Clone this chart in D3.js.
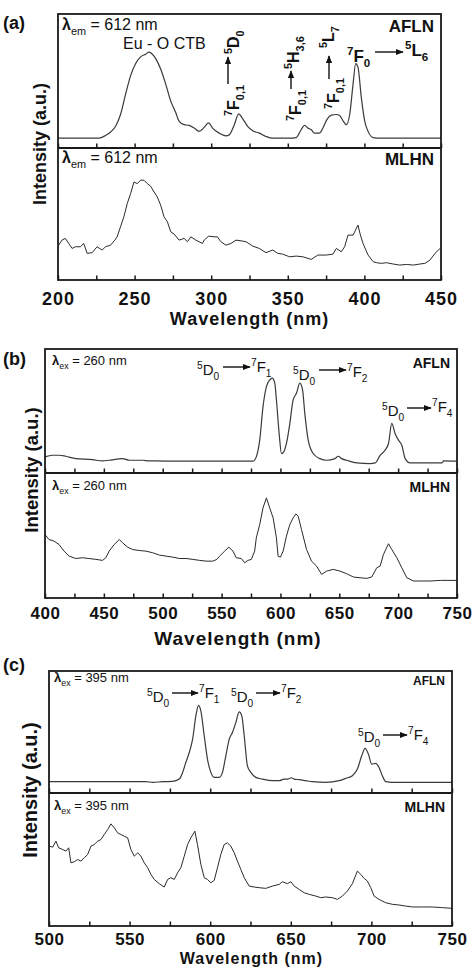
<!DOCTYPE html>
<html>
<head>
<meta charset="utf-8">
<script src="https://cdn.jsdelivr.net/npm/d3@7"></script>
<style>
  body { margin: 0; background: #fff; }
  text { white-space: pre; }
</style>
</head>
<body>
<script>
const width = 472, height = 967;
const fontFam = 'Arial, "Liberation Sans", sans-serif';

// (a) excitation spectra, lambda_em = 612 nm  [wavelength nm, intensity a.u.]
const excAFLN = [[200,0.073],[226.6,0.073],[231,0.093],[234.3,0.119],[237.6,0.162],[240.8,0.25],[244.1,0.4],[247.4,0.54],[250.7,0.63],[253.9,0.68],[257.2,0.70],[259.4,0.715],[261.6,0.70],[263.8,0.667],[267,0.59],[270.3,0.477],[273.6,0.35],[276.9,0.263],[279,0.2],[282.3,0.174],[285.6,0.169],[288.9,0.149],[292.1,0.124],[295.4,0.154],[298.3,0.187],[300.9,0.149],[305.2,0.111],[309.6,0.091],[311.8,0.098],[315.1,0.174],[317.9,0.255],[320.5,0.22],[323.8,0.162],[327.1,0.129],[331.4,0.111],[335.8,0.086],[340.2,0.073],[351.1,0.073],[355.5,0.078],[358.7,0.136],[360.9,0.169],[363.1,0.149],[365.3,0.136],[367.5,0.111],[370.7,0.111],[372.9,0.149],[375.5,0.212],[378.4,0.245],[381.7,0.25],[383.8,0.242],[386,0.205],[388.2,0.174],[390.4,0.25],[392.6,0.477],[394.3,0.63],[395.8,0.604],[398,0.376],[400.2,0.2],[402.4,0.124],[405.7,0.078],[410,0.073],[450,0.073]];
const excMLHN = [[200.4,0.264],[202.6,0.302],[204.8,0.315],[207,0.277],[209.2,0.239],[211.4,0.252],[214.6,0.252],[216.8,0.277],[219,0.202],[222.3,0.207],[225.5,0.252],[228.8,0.227],[231,0.252],[234.3,0.264],[237.1,0.302],[238.6,0.327],[240.8,0.403],[243,0.479],[245.2,0.579],[247.4,0.655],[249.6,0.743],[251.7,0.73],[253.9,0.756],[256.1,0.756],[258.3,0.73],[260.5,0.71],[262.7,0.667],[264.8,0.63],[267,0.567],[269.2,0.479],[271.4,0.441],[273.6,0.365],[275.8,0.348],[279,0.302],[282.3,0.315],[284.5,0.29],[286.7,0.327],[290,0.302],[294.3,0.277],[295.4,0.302],[298.3,0.332],[301.9,0.327],[304.1,0.327],[306.3,0.29],[309.6,0.264],[312.9,0.277],[316.2,0.302],[319.4,0.297],[322.7,0.29],[327.1,0.257],[331.4,0.239],[335.8,0.207],[340.2,0.227],[343.4,0.202],[346.7,0.196],[351.1,0.176],[355.5,0.181],[359.8,0.176],[365.3,0.156],[369.6,0.189],[375.1,0.189],[379.5,0.196],[381.7,0.239],[384.9,0.214],[387.1,0.252],[389.3,0.34],[392.6,0.34],[395.8,0.416],[397.4,0.34],[399.1,0.277],[402.4,0.189],[405.7,0.139],[407.9,0.131],[411.1,0.126],[414.4,0.131],[418.8,0.121],[423.1,0.113],[427.5,0.118],[431.9,0.113],[436.2,0.121],[439.5,0.126],[442.8,0.151],[446.1,0.202],[449.4,0.239]];

// (b) emission spectra, lambda_ex = 260 nm
const em260AFLN = [[400,0.13],[406.2,0.143],[411.9,0.143],[417.6,0.135],[426.1,0.116],[440.3,0.108],[448.9,0.097],[454.5,0.103],[465.9,0.116],[471.6,0.103],[482.9,0.103],[488.6,0.097],[494.3,0.097],[511.4,0.095],[539.8,0.095],[568.2,0.095],[576.7,0.095],[579.5,0.13],[582.4,0.265],[585.2,0.535],[588.1,0.697],[590.9,0.751],[593.2,0.765],[595.2,0.724],[596.6,0.589],[598.9,0.319],[600.9,0.157],[602.8,0.17],[605.1,0.238],[608,0.4],[610.8,0.589],[613.6,0.643],[616.5,0.724],[618.8,0.67],[620.7,0.481],[623.6,0.265],[627.8,0.157],[633.5,0.116],[639.2,0.103],[646.3,0.116],[649.1,0.135],[652,0.116],[656.3,0.103],[664.8,0.081],[676.1,0.076],[680.4,0.081],[684.7,0.143],[688.9,0.184],[691.8,0.238],[694.6,0.4],[697.4,0.319],[700.3,0.265],[703.1,0.224],[706,0.116],[710.2,0.081],[724.4,0.081],[737.2,0.081],[738.6,0.097],[750,0.095]];
const em260MLHN = [[400,0.508],[403.4,0.468],[407.7,0.455],[411.9,0.428],[416.2,0.375],[420.5,0.335],[426.1,0.316],[431.8,0.322],[437.5,0.316],[443.2,0.309],[448.9,0.301],[451.7,0.322],[454.5,0.375],[458.8,0.428],[463.1,0.468],[465.9,0.441],[470.2,0.407],[474.4,0.388],[480.1,0.38],[485.8,0.375],[491.5,0.362],[497.2,0.343],[502.9,0.335],[508.5,0.327],[514.2,0.316],[519.9,0.316],[525.6,0.309],[531.2,0.301],[536.9,0.295],[542.6,0.295],[546,0.309],[548.3,0.335],[552.6,0.375],[556.2,0.407],[559.7,0.375],[562.5,0.322],[566.8,0.316],[569.6,0.282],[572.4,0.301],[575.3,0.309],[578.1,0.375],[579.5,0.481],[582.4,0.588],[585.2,0.721],[588.1,0.801],[590.9,0.721],[593.8,0.641],[596.6,0.481],[598,0.335],[600,0.327],[602.3,0.375],[605.1,0.495],[608,0.588],[610.8,0.641],[613.1,0.673],[615.1,0.654],[617.9,0.548],[622.2,0.388],[626.4,0.295],[630.7,0.255],[635,0.189],[639.2,0.215],[644.9,0.229],[650.6,0.215],[656.3,0.194],[662,0.168],[667.6,0.162],[673.3,0.157],[677.6,0.168],[681.8,0.242],[684.7,0.255],[687.5,0.348],[691.8,0.434],[694.6,0.388],[698.9,0.322],[703.1,0.242],[707.4,0.162],[713.1,0.136],[718.8,0.136],[727.3,0.136],[735.8,0.141],[750,0.141]];

// (c) emission spectra, lambda_ex = 395 nm
const em395AFLN = [[500,0.093],[560.1,0.093],[564.3,0.087],[570.5,0.093],[576.7,0.095],[580.8,0.114],[582.9,0.169],[584.9,0.251],[587,0.332],[589.1,0.441],[591.1,0.632],[592.8,0.719],[594.2,0.673],[596.3,0.469],[598.3,0.278],[600.4,0.169],[602.5,0.128],[605.6,0.128],[607.6,0.169],[609.7,0.305],[611.8,0.441],[613.8,0.496],[615.9,0.577],[618,0.665],[619.6,0.632],[621.1,0.469],[623.1,0.223],[625.2,0.169],[628.3,0.128],[632.4,0.114],[638.6,0.101],[642.8,0.101],[645.9,0.114],[647.9,0.114],[650.4,0.125],[652.1,0.114],[655.2,0.109],[659.3,0.101],[663.4,0.093],[671.7,0.087],[680,0.101],[684.1,0.12],[688.2,0.142],[691.3,0.196],[694,0.305],[696.1,0.365],[698.1,0.319],[700.2,0.237],[702.7,0.243],[704.7,0.21],[706.8,0.142],[708.9,0.093],[713,0.087],[750,0.087]];
const em395MLHN = [[500.2,0.6],[502.3,0.593],[504.3,0.638],[506,0.588],[508.5,0.575],[510.5,0.563],[512.2,0.588],[513.6,0.475],[515.7,0.483],[517.8,0.5],[519.8,0.488],[521.9,0.513],[524,0.538],[526,0.6],[528.1,0.613],[530.2,0.638],[532.2,0.65],[534.3,0.688],[536.4,0.725],[538.4,0.768],[540.5,0.738],[542.6,0.7],[544.6,0.688],[546.7,0.675],[548.8,0.663],[550.8,0.575],[552.9,0.525],[555,0.55],[557,0.525],[559.1,0.475],[561.2,0.438],[563.2,0.388],[565.3,0.35],[568.4,0.318],[571.5,0.293],[573.6,0.35],[575.6,0.363],[577.7,0.35],[579.8,0.4],[581.8,0.438],[583.9,0.525],[586,0.613],[588,0.663],[590.5,0.713],[592.1,0.613],[594.2,0.463],[596.3,0.363],[598.3,0.35],[600.4,0.325],[602.5,0.343],[604.5,0.438],[606.6,0.538],[608.7,0.613],[610.7,0.625],[612.8,0.6],[614.9,0.55],[616.9,0.488],[619,0.425],[621.1,0.363],[624.2,0.3],[627.3,0.293],[630.4,0.288],[634.5,0.283],[638.6,0.3],[642.8,0.313],[644.8,0.333],[647.9,0.318],[650,0.333],[652.1,0.3],[655.2,0.275],[658.3,0.25],[661.4,0.238],[665.5,0.225],[668.6,0.213],[671.7,0.218],[675.8,0.213],[678.9,0.2],[682,0.225],[685.1,0.263],[688.2,0.318],[691.3,0.413],[693.4,0.388],[695.5,0.358],[697.5,0.338],[699.6,0.288],[701.7,0.225],[704.7,0.2],[708.9,0.175],[713,0.163],[717.1,0.158],[721.3,0.15],[725.4,0.143],[731.6,0.143],[737.8,0.143],[744,0.138],[750,0.133]];

// tick labels
const ticksA = [200, 250, 300, 350, 400, 450];
const ticksB = [400, 450, 500, 550, 600, 650, 700, 750];
const ticksC = [500, 550, 600, 650, 700, 750];

const svg = d3.select('body').append('svg')
  .attr('width', width)
  .attr('height', height)
  .style('background-color', '#fff');

// arrow head
svg.append('defs').append('marker')
  .attr('id', 'head')
  .attr('viewBox', '0 -5 10 10')
  .attr('refX', 9).attr('refY', 0)
  .attr('markerWidth', 8).attr('markerHeight', 8)
  .attr('markerUnits', 'userSpaceOnUse')
  .attr('orient', 'auto')
  .append('path')
  .attr('d', 'M0,-4L10,0L0,4Z')
  .attr('fill', '#111');

// text with super/subscripts; parts: 'str' or [str, 'sup'|'sub'|'b']
function rich(parent, x, y, parts, o) {
  const t = parent.append('text')
    .attr('transform', `translate(${x},${y})` + (o.rotate ? ' rotate(-90)' : ''))
    .attr('font-family', fontFam)
    .attr('font-size', o.size)
    .attr('font-weight', o.weight || 'normal')
    .attr('text-anchor', o.anchor || 'start')
    .attr('fill', '#111');
  let cur = 0;
  parts.forEach(function (p) {
    const s = typeof p === 'string' ? p : p[0];
    const k = typeof p === 'string' ? '' : p[1];
    const off = k === 'sup' ? -0.42 * o.size : k === 'sub' ? 0.3 * o.size : 0;
    const ts = t.append('tspan').attr('dy', off - cur).text(s);
    if (k === 'sup' || k === 'sub') ts.attr('font-size', o.size * 0.68);
    if (k === 'b') ts.attr('font-weight', 'bold');
    cur = off;
  });
  return t;
}

function arrow(parent, x1, y1, x2, y2) {
  parent.append('line')
    .attr('x1', x1).attr('y1', y1).attr('x2', x2).attr('y2', y2)
    .attr('stroke', '#111').attr('stroke-width', 1.4)
    .attr('marker-end', 'url(#head)');
}

// a "5D0 -> 7F1" style transition label
function transition(parent, x, y, ax1, ax2, ay, x2, y2, lower, upper, size) {
  rich(parent, x, y, [['5', 'sup'], 'D', ['0', 'sub']], { size: size });
  arrow(parent, ax1, ay, ax2, ay);
  rich(parent, x2, y2, [['7', 'sup'], 'F', [upper, 'sub']], { size: size });
}

function drawPanel(p) {
  const g = svg.append('g');
  const x = d3.scaleLinear().domain(p.dom).range([p.x0, p.x1]);
  const yTop = d3.scaleLinear().domain([0, 1]).range([p.mid, p.top]);
  const yBot = d3.scaleLinear().domain([0, 1]).range([p.bot, p.mid]);

  const lineTop = d3.line().x(d => x(d[0])).y(d => yTop(d[1])).curve(d3.curveMonotoneX);
  const lineBot = d3.line().x(d => x(d[0])).y(d => yBot(d[1]));

  g.append('path').datum(p.upper)
    .attr('d', lineTop).attr('fill', 'none')
    .attr('stroke', '#3a3a3a').attr('stroke-width', 1.2);
  g.append('path').datum(p.lower)
    .attr('d', lineBot).attr('fill', 'none')
    .attr('stroke', '#2a2a2a').attr('stroke-width', 1);

  // inward ticks on divider and bottom axis
  const minor = d3.range(p.dom[0], p.dom[1] + 1, 25);
  [p.mid, p.bot].forEach(function (yy) {
    const ax = g.append('g')
      .attr('transform', `translate(0,${yy})`)
      .call(d3.axisBottom(x).tickValues(minor).tickSize(-p.tick).tickFormat(''));
    ax.select('.domain').remove();
    ax.selectAll('line').attr('stroke', '#1a1a1a').attr('stroke-width', 1.5);
  });

  // tick labels
  const lab = g.append('g')
    .attr('transform', `translate(0,${p.bot})`)
    .call(d3.axisBottom(x).tickValues(p.ticks).tickSize(0).tickFormat(d3.format('d')));
  lab.select('.domain').remove();
  lab.selectAll('text')
    .attr('y', p.labY - p.bot).attr('dy', null)
    .attr('font-family', fontFam).attr('font-size', p.labSize)
    .attr('font-weight', 'bold').attr('fill', '#111')
    .style('letter-spacing', p.labSpace + 'px');

  // frame and divider
  g.append('rect')
    .attr('x', p.x0).attr('y', p.top)
    .attr('width', p.x1 - p.x0).attr('height', p.bot - p.top)
    .attr('fill', 'none').attr('stroke', '#1a1a1a').attr('stroke-width', 1.8);
  g.append('line')
    .attr('x1', p.x0).attr('x2', p.x1).attr('y1', p.mid).attr('y2', p.mid)
    .attr('stroke', '#1a1a1a').attr('stroke-width', 1.8);

  // axis titles
  g.append('text')
    .attr('x', (p.x0 + p.x1) / 2 + p.titleDx).attr('y', p.titleY)
    .attr('text-anchor', 'middle')
    .attr('font-family', fontFam).attr('font-size', p.titleSize)
    .attr('font-weight', 'bold').attr('fill', '#111')
    .style('letter-spacing', '1px')
    .text('Wavelength (nm)');
  g.append('text')
    .attr('transform', `translate(${p.yLabX},${p.yLabY}) rotate(-90)`)
    .attr('text-anchor', 'middle')
    .attr('font-family', fontFam).attr('font-size', p.yLabSize)
    .attr('font-weight', 'bold').attr('fill', '#111')
    .text('Intensity (a.u.)');
  g.append('text')
    .attr('x', 3).attr('y', p.letterY)
    .attr('font-family', fontFam).attr('font-size', 18)
    .attr('font-weight', 'bold').attr('fill', '#111')
    .text('(' + p.id + ')');

  // sample names
  g.append('text')
    .attr('x', p.nameX).attr('y', p.top + p.nameDy)
    .attr('text-anchor', 'end')
    .attr('font-family', fontFam).attr('font-size', p.nameSize)
    .attr('font-weight', 'bold').attr('fill', '#111')
    .text('AFLN');
  g.append('text')
    .attr('x', p.nameX).attr('y', p.mid + p.nameDy2)
    .attr('text-anchor', 'end')
    .attr('font-family', fontFam).attr('font-size', p.nameSize2)
    .attr('font-weight', 'bold').attr('fill', '#111')
    .text('MLHN');
  return g;
}

// ---------- panel (a)
const gA = drawPanel({
  id: 'a', x0: 58, x1: 441, top: 14, mid: 148, bot: 280, dom: [200, 450],
  upper: excAFLN, lower: excMLHN, ticks: ticksA, tick: 4.5,
  labY: 305, labSize: 18, labSpace: 1,
  titleY: 325, titleSize: 18, titleDx: 0,
  yLabX: 46, yLabY: 144, yLabSize: 18, letterY: 29,
  nameX: 434, nameDy: 18, nameSize: 17, nameDy2: 17, nameSize2: 17
});
rich(gA, 62, 30, [['λ', 'b'], ['em', 'sub'], ' = 612 nm'], { size: 16 });
rich(gA, 62, 163, [['λ', 'b'], ['em', 'sub'], ' = 612 nm'], { size: 16 });
gA.append('text').attr('x', 123).attr('y', 49)
  .attr('font-family', fontFam).attr('font-size', 16).attr('fill', '#111')
  .text('Eu - O CTB');
// 7F0,1 -> 5D0
rich(gA, 239, 54, [['5', 'sup'], 'D', ['0', 'sub']], { size: 16, weight: 'bold', rotate: true });
arrow(gA, 228, 84, 228, 57);
rich(gA, 239, 116, [['7', 'sup'], 'F', ['0,1', 'sub']], { size: 16, weight: 'bold', rotate: true });
// 7F0,1 -> 5H3,6
rich(gA, 299, 69, [['5', 'sup'], 'H', ['3,6', 'sub']], { size: 16, weight: 'bold', rotate: true });
arrow(gA, 291, 89, 291, 71);
rich(gA, 301, 121, [['7', 'sup'], 'F', ['0,1', 'sub']], { size: 16, weight: 'bold', rotate: true });
// 7F0,1 -> 5L7
rich(gA, 334, 48, [['5', 'sup'], 'L', ['7', 'sub']], { size: 16, weight: 'bold', rotate: true });
arrow(gA, 329, 79, 329, 56);
rich(gA, 339, 109, [['7', 'sup'], 'F', ['0,1', 'sub']], { size: 16, weight: 'bold', rotate: true });
// 7F0 -> 5L6
rich(gA, 347, 62, [['7', 'sup'], 'F', ['0', 'sub']], { size: 17, weight: 'bold' });
arrow(gA, 375, 52, 403, 52);
rich(gA, 405, 56, [['5', 'sup'], 'L', ['6', 'sub']], { size: 17, weight: 'bold' });

// ---------- panel (b)
const gB = drawPanel({
  id: 'b', x0: 45, x1: 457, top: 349, mid: 473, bot: 598, dom: [400, 750],
  upper: em260AFLN, lower: em260MLHN, ticks: ticksB, tick: 4.5,
  labY: 619, labSize: 17, labSpace: 0.5,
  titleY: 645, titleSize: 19, titleDx: -13,
  yLabX: 38, yLabY: 470, yLabSize: 18.5, letterY: 365,
  nameX: 450, nameDy: 19, nameSize: 14, nameDy2: 19, nameSize2: 14
});
rich(gB, 52, 365, [['λ', 'b'], ['ex', 'sub'], ' = 260 nm'], { size: 13 });
rich(gB, 52, 490, [['λ', 'b'], ['ex', 'sub'], ' = 260 nm'], { size: 13 });
transition(gB, 197, 375, 223, 250, 367, 251, 372, '0', '1', 15);
transition(gB, 293, 380, 319, 346, 370, 347, 377, '0', '2', 15);
transition(gB, 382, 416, 407, 431, 408, 432, 412, '0', '4', 15);

// ---------- panel (c)
const gC = drawPanel({
  id: 'c', x0: 49, x1: 452, top: 671, mid: 793, bot: 926, dom: [500, 750],
  upper: em395AFLN, lower: em395MLHN, ticks: ticksC, tick: 4.5,
  labY: 944.5, labSize: 17, labSpace: 0.5,
  titleY: 963.5, titleSize: 16, titleDx: 1,
  yLabX: 37, yLabY: 790, yLabSize: 20, letterY: 671,
  nameX: 445, nameDy: 14, nameSize: 12, nameDy2: 19, nameSize2: 14
});
rich(gC, 54, 682, [['λ', 'b'], ['ex', 'sub'], ' = 395 nm'], { size: 13 });
rich(gC, 54, 810, [['λ', 'b'], ['ex', 'sub'], ' = 395 nm'], { size: 13 });
transition(gC, 147, 702, 172, 198, 693, 199, 698, '0', '1', 15);
transition(gC, 231, 702, 256, 280, 693, 281, 698, '0', '2', 15);
transition(gC, 358, 742, 383, 407, 735, 408, 740, '0', '4', 15);
</script>
</body>
</html>
